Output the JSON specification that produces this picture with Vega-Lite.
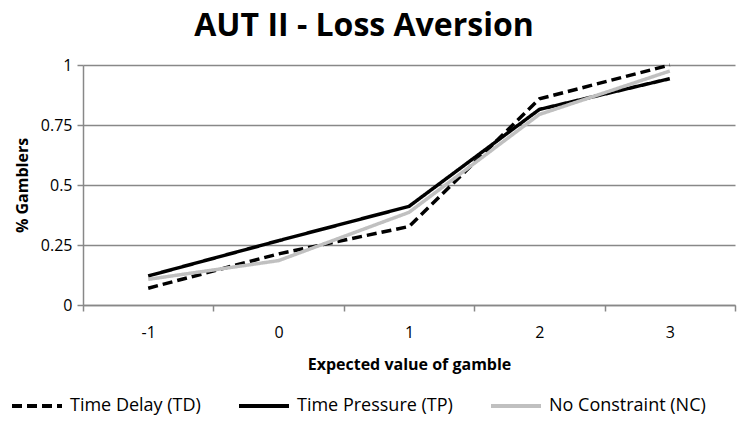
{
  "$schema": "https://vega.github.io/schema/vega-lite/v6.json",
  "autosize": "none",
  "width": 652,
  "height": 240,
  "padding": {"left": 83, "top": 65, "right": 2, "bottom": 132},
  "background": "white",
  "title": {
    "text": "AUT II - Loss Aversion",
    "font": "Open Sans",
    "fontSize": 32,
    "fontWeight": "bold",
    "color": "#000000",
    "anchor": "middle",
    "dx": -45,
    "offset": 14
  },
  "data": {
    "values": [
      {"ev": "-1", "series": "Time Delay (TD)", "pct": 0.07},
      {"ev": "0", "series": "Time Delay (TD)", "pct": 0.213},
      {"ev": "1", "series": "Time Delay (TD)", "pct": 0.327},
      {"ev": "2", "series": "Time Delay (TD)", "pct": 0.859},
      {"ev": "3", "series": "Time Delay (TD)", "pct": 1.0},
      {"ev": "-1", "series": "Time Pressure (TP)", "pct": 0.121},
      {"ev": "0", "series": "Time Pressure (TP)", "pct": 0.268},
      {"ev": "1", "series": "Time Pressure (TP)", "pct": 0.411},
      {"ev": "2", "series": "Time Pressure (TP)", "pct": 0.815},
      {"ev": "3", "series": "Time Pressure (TP)", "pct": 0.943},
      {"ev": "-1", "series": "No Constraint (NC)", "pct": 0.107},
      {"ev": "0", "series": "No Constraint (NC)", "pct": 0.185},
      {"ev": "1", "series": "No Constraint (NC)", "pct": 0.386},
      {"ev": "2", "series": "No Constraint (NC)", "pct": 0.794},
      {"ev": "3", "series": "No Constraint (NC)", "pct": 0.975}
    ]
  },
  "mark": {"type": "line", "strokeWidth": 3.5},
  "encoding": {
    "x": {
      "field": "ev",
      "type": "ordinal",
      "sort": ["-1", "0", "1", "2", "3"],
      "scale": {"paddingInner": 0, "paddingOuter": 0},
      "axis": {
        "title": "Expected value of gamble",
        "titleFont": "Open Sans",
        "titleFontSize": 16,
        "titleFontWeight": "bold",
        "titleColor": "#000000",
        "titlePadding": 16,
        "labelFont": "Open Sans",
        "labelFontSize": 16,
        "labelColor": "#000000",
        "labelAngle": 0,
        "labelPadding": 13,
        "domainColor": "#888888",
        "domainWidth": 1.5,
        "tickColor": "#888888",
        "tickWidth": 1.5,
        "tickSize": 6,
        "tickBand": "extent",
        "grid": false
      }
    },
    "y": {
      "field": "pct",
      "type": "quantitative",
      "scale": {"domain": [0, 1]},
      "axis": {
        "values": [0, 0.25, 0.5, 0.75, 1],
        "format": ".2~f",
        "title": "% Gamblers",
        "titleFont": "Open Sans",
        "titleFontSize": 16,
        "titleFontWeight": "bold",
        "titleColor": "#000000",
        "titlePadding": 10,
        "labelFont": "Open Sans",
        "labelFontSize": 16,
        "labelColor": "#000000",
        "labelPadding": 5,
        "domainColor": "#888888",
        "domainWidth": 1.5,
        "tickColor": "#888888",
        "tickWidth": 1.5,
        "tickSize": 6,
        "grid": true,
        "gridColor": "#888888",
        "gridWidth": 1.5
      }
    },
    "color": {
      "field": "series",
      "type": "nominal",
      "sort": ["Time Delay (TD)", "Time Pressure (TP)", "No Constraint (NC)"],
      "scale": {
        "domain": ["Time Delay (TD)", "Time Pressure (TP)", "No Constraint (NC)"],
        "range": ["#000000", "#000000", "#c0c0c0"]
      },
      "legend": {
        "title": null,
        "orient": "none",
        "legendX": -73,
        "legendY": 314,
        "direction": "horizontal",
        "symbolType": "stroke",
        "symbolSize": 2500,
        "symbolStrokeWidth": 4,
        "labelFont": "Open Sans",
        "labelFontSize": 18,
        "labelColor": "#000000",
        "labelOffset": 6,
        "columnPadding": 30
      }
    },
    "strokeDash": {
      "field": "series",
      "type": "nominal",
      "sort": ["Time Delay (TD)", "Time Pressure (TP)", "No Constraint (NC)"],
      "scale": {
        "domain": ["Time Delay (TD)", "Time Pressure (TP)", "No Constraint (NC)"],
        "range": [[10, 5], [1, 0], [1, 0]]
      },
      "legend": null
    },
    "order": {"field": "ev"}
  },
  "config": {"view": {"stroke": null}}
}
